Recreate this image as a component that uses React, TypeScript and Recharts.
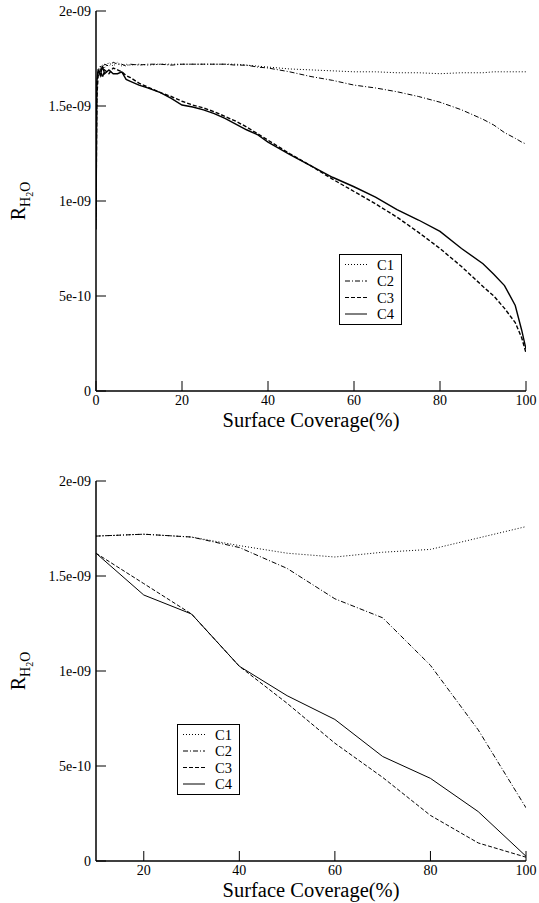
import { LineChart, Line, XAxis, YAxis, Legend } from "recharts";

// values of R in units of 1e-10
const topX = [0, 0.2, 0.5, 1, 1.5, 2, 3, 4, 5, 6, 7, 8, 10, 12, 15, 17.5, 20, 22.5, 25, 27.5, 30, 32.5, 35, 37.5, 40, 45, 50, 55, 60, 65, 70, 75, 80, 85, 90, 92.5, 95, 97.5, 99, 100];
const topC1 = [9.0, 16.0, 17.0, 16.8, 17.2, 17.0, 17.3, 17.1, 17.3, 17.1, 17.2, 17.15, 17.2, 17.15, 17.2, 17.2, 17.2, 17.2, 17.2, 17.2, 17.2, 17.2, 17.15, 17.1, 17.05, 16.95, 16.9, 16.85, 16.8, 16.8, 16.75, 16.75, 16.7, 16.75, 16.75, 16.8, 16.8, 16.8, 16.8, 16.8];
const topC2 = [9.2, 16.2, 16.9, 17.1, 16.9, 17.2, 17.1, 17.3, 17.2, 17.2, 17.1, 17.2, 17.15, 17.2, 17.2, 17.15, 17.2, 17.2, 17.2, 17.2, 17.2, 17.15, 17.15, 17.05, 17.0, 16.8, 16.55, 16.35, 16.1, 15.95, 15.75, 15.5, 15.2, 14.8, 14.3, 14.0, 13.6, 13.3, 13.1, 13.0];
const topC3 = [9.5, 15.5, 16.6, 16.9, 16.5, 16.9, 16.7, 17.0, 16.9, 16.8, 16.6, 16.5, 16.2, 16.0, 15.7, 15.5, 15.25, 15.05, 14.9, 14.7, 14.45, 14.2, 13.9, 13.55, 13.2, 12.5, 11.85, 11.15, 10.5, 9.85, 9.15, 8.35, 7.5, 6.55, 5.5, 5.0, 4.35, 3.6, 2.8, 2.0];
const topC4 = [8.5, 16.3, 16.9, 16.6, 17.1, 16.7, 16.9, 16.7, 16.7, 16.8, 16.4, 16.3, 16.1, 15.95, 15.7, 15.4, 15.05, 14.95, 14.8, 14.6, 14.35, 14.05, 13.75, 13.5, 13.1, 12.45, 11.85, 11.25, 10.75, 10.2, 9.55, 9.0, 8.4, 7.5, 6.7, 6.15, 5.55, 4.5, 3.2, 2.2];

const bottomX = [10, 20, 30, 40, 50, 60, 70, 80, 90, 100];
const bottomC1 = [17.1, 17.2, 17.05, 16.6, 16.2, 16.0, 16.25, 16.4, 17.0, 17.6];
const bottomC2 = [17.1, 17.2, 17.05, 16.5, 15.4, 13.8, 12.8, 10.3, 6.9, 2.8];
const bottomC3 = [16.2, 14.6, 13.0, 10.25, 8.3, 6.2, 4.4, 2.4, 0.95, 0.2];
const bottomC4 = [16.2, 14.0, 13.0, 10.25, 8.7, 7.45, 5.5, 4.35, 2.6, 0.25];

const seriesNames = ["C1", "C2", "C3", "C4"];
const seriesDash = ["1 2", "5 2 1 2", "4 2", ""];

const topXTicks = [0, 20, 40, 60, 80, 100];
const bottomXTicks = [20, 40, 60, 80, 100];
const innerXTicks = [20, 40, 60, 80];
const yTicks = [0, 5e-10, 1e-9, 1.5e-9, 2e-9];
const yTickLabels = ["0", "5e-10", "1e-09", "1.5e-09", "2e-09"];
const innerYTicks = [5e-10, 1e-9, 1.5e-9];

const build = (xs: number[], cols: number[][]) =>
  xs.map((x, i) => ({ x, c1: cols[0][i] * 1e-10, c2: cols[1][i] * 1e-10, c3: cols[2][i] * 1e-10, c4: cols[3][i] * 1e-10 }));

const topData = build(topX, [topC1, topC2, topC3, topC4]);
const bottomData = build(bottomX, [bottomC1, bottomC2, bottomC3, bottomC4]);

const FONT = "Liberation Serif";

const BottomTick = ({ x, y, payload }: any) => (
  <g>
    <line x1={x} x2={x} y1={y} y2={y - 10} stroke="#000" strokeWidth={1} />
    <text x={x} y={y + 14} textAnchor="middle" fontFamily={FONT} fontSize={14} fill="#000">
      {payload.value}
    </text>
  </g>
);

const TopTick = ({ x, y }: any) => <line x1={x} x2={x} y1={y} y2={y + 10} stroke="#000" strokeWidth={1} />;

const LeftTick = ({ x, y, payload }: any) => {
  const idx = yTicks.findIndex((t) => Math.abs(t - payload.value) < 1e-12);
  return (
    <g>
      <line x1={x} x2={x + 10} y1={y} y2={y} stroke="#000" strokeWidth={1} />
      <text x={x - 5} y={y + 5} textAnchor="end" fontFamily={FONT} fontSize={14} fill="#000">
        {yTickLabels[idx]}
      </text>
    </g>
  );
};

const RightTick = ({ x, y }: any) => <line x1={x} x2={x - 10} y1={y} y2={y} stroke="#000" strokeWidth={1} />;

const YTitle = (props: any) => {
  const vb = props.viewBox || {};
  const cx = 25;
  const cy = vb.height ? vb.y + vb.height / 2 : 200;
  return (
    <text transform={`rotate(-90, ${cx}, ${cy})`} x={cx} y={cy} textAnchor="middle" fontFamily={FONT} fontSize={20} fill="#000">
      R
      <tspan fontSize={14} dy={5}>H</tspan>
      <tspan fontSize={10} dy={3}>2</tspan>
      <tspan fontSize={14} dy={-3}>O</tspan>
    </text>
  );
};

const XTitle = (props: any) => {
  const vb = props.viewBox || {};
  const cx = vb.width ? vb.x + vb.width / 2 : 311;
  const cy = vb.y !== undefined ? vb.y + 35.5 : 420;
  return (
    <text x={cx} y={cy} textAnchor="middle" fontFamily={FONT} fontSize={20.5} fill="#000">
      Surface Coverage(%)
    </text>
  );
};

const LegendBox = ({ payload }: any) => (
  <svg width={63} height={71} style={{ display: "block" }}>
    <rect x={0.5} y={0.5} width={62} height={70} fill="#fff" stroke="#000" strokeWidth={1} />
    {(payload || []).map((p: any, i: number) => {
      const k = seriesNames.indexOf(p.value);
      const cy = 10.5 + i * 16.5;
      return (
        <g key={p.value}>
          <line x1={6} x2={28} y1={cy} y2={cy} stroke="#000" strokeWidth={1} strokeDasharray={seriesDash[k] || undefined} />
          <text x={38} y={cy + 5} fontFamily={FONT} fontSize={14.5} fill="#000">
            {p.value}
          </text>
        </g>
      );
    })}
  </svg>
);

type PanelProps = {
  data: any[];
  height: number;
  top: number;
  xDomain: [number, number];
  xTicks: number[];
  legendLeft: number;
  legendTop: number;
  lineWidth: number;
};

const Panel = ({ data, height, top, xDomain, xTicks, legendLeft, legendTop, lineWidth }: PanelProps) => (
  <LineChart width={539} height={height} data={data} margin={{ top, right: 13, bottom: 0, left: 0 }} style={{ fontFamily: FONT }}>
    <XAxis
      dataKey="x"
      type="number"
      domain={xDomain}
      ticks={xTicks}
      interval={0}
      allowDataOverflow
      height={height - top - 380}
      axisLine={{ stroke: "#000", strokeWidth: 1.5 }}
      tickLine={false}
      tickSize={0}
      tickMargin={0}
      tick={<BottomTick />}
      label={{ content: XTitle }}
    />
    <XAxis
      xAxisId="top"
      orientation="top"
      type="number"
      dataKey="x"
      domain={xDomain}
      ticks={innerXTicks}
      interval={0}
      allowDataOverflow
      height={0}
      axisLine={{ stroke: "#000", strokeWidth: 1.5 }}
      tickLine={false}
      tickSize={0}
      tickMargin={0}
      tick={<TopTick />}
    />
    <YAxis
      type="number"
      domain={[0, 2e-9]}
      ticks={yTicks}
      interval={0}
      allowDataOverflow
      width={96}
      axisLine={{ stroke: "#000", strokeWidth: 1.5 }}
      tickLine={false}
      tickSize={0}
      tickMargin={0}
      tick={<LeftTick />}
      label={{ content: YTitle }}
    />
    <YAxis
      yAxisId="right"
      orientation="right"
      type="number"
      domain={[0, 2e-9]}
      ticks={innerYTicks}
      interval={0}
      allowDataOverflow
      width={0}
      axisLine={{ stroke: "#000", strokeWidth: 1.5 }}
      tickLine={false}
      tickSize={0}
      tickMargin={0}
      tick={<RightTick />}
    />
    <Legend
      layout="horizontal"
      verticalAlign="middle"
      align="center"
      content={<LegendBox />}
      wrapperStyle={{ left: legendLeft, top: legendTop, width: 63, height: 71 }}
    />
    {["c1", "c2", "c3", "c4"].map((key, i) => (
      <Line
        key={key}
        dataKey={key}
        name={seriesNames[i]}
        type="linear"
        stroke="#000"
        strokeWidth={i < 2 ? 1 : lineWidth}
        strokeDasharray={seriesDash[i] || undefined}
        dot={false}
        activeDot={false}
        isAnimationActive={false}
      />
    ))}
  </LineChart>
);

export default function App() {
  return (
    <div style={{ position: "absolute", left: 0, top: 0, width: 539, height: 903, background: "#fff", fontFamily: FONT }}>
      <div style={{ position: "absolute", left: 0, top: 0 }}>
        <Panel data={topData} height={450} top={11} xDomain={[0, 100]} xTicks={topXTicks} legendLeft={339} legendTop={254} lineWidth={1.4} />
      </div>
      <div style={{ position: "absolute", left: 0, top: 450 }}>
        <Panel data={bottomData} height={453} top={31} xDomain={[10, 100]} xTicks={bottomXTicks} legendLeft={177} legendTop={274} lineWidth={1} />
      </div>
    </div>
  );
}
